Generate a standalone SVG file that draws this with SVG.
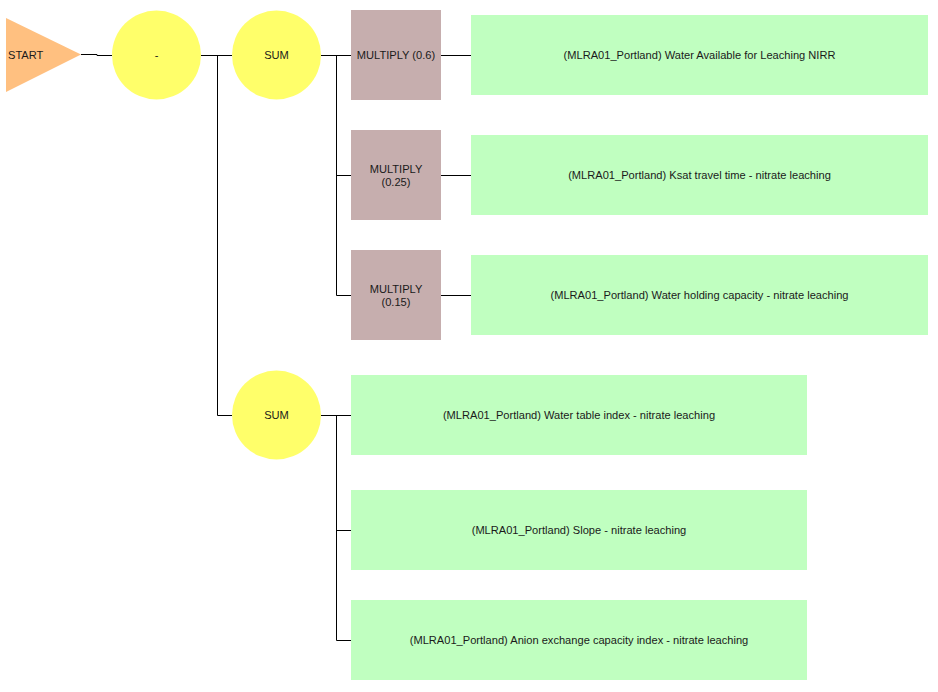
<svg xmlns="http://www.w3.org/2000/svg" width="938" height="692" viewBox="0 0 938 692">
  <style>
    .lbl { font-family: "Liberation Sans", Arial, sans-serif; font-size: 11.1px; fill: #1a1a1a; text-anchor: middle; }
    .start { fill: #FFC080; }
    .op { fill: #FFFF6A; }
    .mul { fill: #C6AEAE; }
    .leaf { fill: #C0FFC0; }
    .wire { fill: none; stroke: #000; stroke-width: 1; }
  </style>
  <rect width="938" height="692" fill="#fff"/>

  <!-- connectors -->
  <g id="connectors" class="wire">
    <path d="M81 54.5 H97 V55.5 H112"/>
    <path d="M201 55.5 H232"/>
    <path d="M217.5 55.5 V415.5 H232"/>
    <path d="M321 55.5 H351"/>
    <path d="M336.5 55.5 V295.5 H351"/>
    <path d="M336.5 175.5 H351"/>
    <path d="M441 55.5 H471"/>
    <path d="M441 175.5 H471"/>
    <path d="M441 295.5 H471"/>
    <path d="M321 415.5 H351"/>
    <path d="M336.5 415.5 V640.5 H351"/>
    <path d="M336.5 530.5 H351"/>
  </g>

  <!-- nodes -->
  <g id="start">
    <polygon class="start" points="6,18 81,54.5 6,92"/>
    <text class="lbl" x="8" y="59" style="text-anchor:start">START</text>
  </g>
  <g id="minus">
    <circle class="op" cx="156.5" cy="55" r="44.5"/>
    <text class="lbl" x="156.5" y="59">-</text>
  </g>
  <g id="sum1">
    <circle class="op" cx="276.5" cy="55" r="44.5"/>
    <text class="lbl" x="276.5" y="59">SUM</text>
  </g>
  <g id="mul1">
    <rect class="mul" x="351" y="10" width="90" height="90"/>
    <text class="lbl" x="396" y="59">MULTIPLY (0.6)</text>
  </g>
  <g id="leaf1">
    <rect class="leaf" x="471" y="15" width="457" height="80"/>
    <text class="lbl" x="699.5" y="59">(MLRA01_Portland) Water Available for Leaching NIRR</text>
  </g>
  <g id="mul2">
    <rect class="mul" x="351" y="130" width="90" height="90"/>
    <text class="lbl" x="396" y="173">MULTIPLY</text>
    <text class="lbl" x="396" y="186">(0.25)</text>
  </g>
  <g id="leaf2">
    <rect class="leaf" x="471" y="135" width="457" height="80"/>
    <text class="lbl" x="699.5" y="179">(MLRA01_Portland) Ksat travel time - nitrate leaching</text>
  </g>
  <g id="mul3">
    <rect class="mul" x="351" y="250" width="90" height="90"/>
    <text class="lbl" x="396" y="293">MULTIPLY</text>
    <text class="lbl" x="396" y="306">(0.15)</text>
  </g>
  <g id="leaf3">
    <rect class="leaf" x="471" y="255" width="457" height="80"/>
    <text class="lbl" x="699.5" y="299">(MLRA01_Portland) Water holding capacity - nitrate leaching</text>
  </g>
  <g id="sum2">
    <circle class="op" cx="276.5" cy="415" r="44.5"/>
    <text class="lbl" x="276.5" y="419">SUM</text>
  </g>
  <g id="leaf4">
    <rect class="leaf" x="351" y="375" width="456" height="80"/>
    <text class="lbl" x="579" y="419">(MLRA01_Portland) Water table index - nitrate leaching</text>
  </g>
  <g id="leaf5">
    <rect class="leaf" x="351" y="490" width="456" height="80"/>
    <text class="lbl" x="579" y="534">(MLRA01_Portland) Slope - nitrate leaching</text>
  </g>
  <g id="leaf6">
    <rect class="leaf" x="351" y="600" width="456" height="80"/>
    <text class="lbl" x="579" y="644">(MLRA01_Portland) Anion exchange capacity index - nitrate leaching</text>
  </g>
</svg>
